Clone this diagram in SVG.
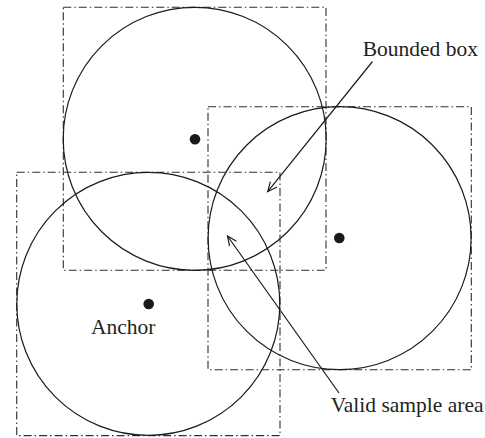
<svg xmlns="http://www.w3.org/2000/svg" width="485" height="438" viewBox="0 0 485 438">
  <style>
    .box { fill: none; stroke: #2e2e2e; stroke-width: 1.1; stroke-dasharray: 8 3 1.5 3; }
    .circ { fill: none; stroke: #1a1a1a; stroke-width: 1.2; }
    .dot { fill: #1a1a1a; }
    .lbl { font-family: "Liberation Serif", "Times New Roman", serif; font-size: 21.5px; fill: #231f20; }
    .conn { fill: none; stroke: #1a1a1a; stroke-width: 1.2; marker-end: url(#open); }
  </style>
  <defs>
    <marker id="open" markerUnits="userSpaceOnUse" markerWidth="14" markerHeight="12" viewBox="-11 -6 14 12" refX="0" refY="0" orient="auto">
      <path d="M-9.5,-4.2 L0,0 L-9.5,4.2" fill="none" stroke="#1a1a1a" stroke-width="1.2"/>
    </marker>
  </defs>
  <rect width="485" height="438" fill="#ffffff"/>
  <g id="node-top">
    <rect class="box" x="63.3" y="7.3" width="262.7" height="263"/>
    <circle class="circ" cx="194.7" cy="138.8" r="131.5"/>
    <circle class="dot" cx="195" cy="139.3" r="5.3"/>
  </g>
  <g id="node-right">
    <rect class="box" x="208" y="106.7" width="263.3" height="263"/>
    <circle class="circ" cx="339.6" cy="238.2" r="131.5"/>
    <circle class="dot" cx="339.3" cy="238" r="5.3"/>
  </g>
  <g id="node-anchor">
    <rect class="box" x="16.7" y="172.3" width="263.3" height="263.3"/>
    <circle class="circ" cx="148.3" cy="303.9" r="131.5"/>
    <circle class="dot" cx="148.7" cy="304" r="5.3"/>
    <text class="lbl" x="91" y="334">Anchor</text>
  </g>
  <g id="label-bounded">
    <text class="lbl" x="362.7" y="56">Bounded box</text>
  </g>
  <g id="label-valid">
    <text class="lbl" x="330.7" y="411.5">Valid sample area</text>
  </g>
  <g id="connectors">
    <line class="conn" x1="372.5" y1="61.5" x2="267.7" y2="191.7"/>
    <line class="conn" x1="339" y1="393" x2="227.5" y2="236"/>
  </g>
</svg>
